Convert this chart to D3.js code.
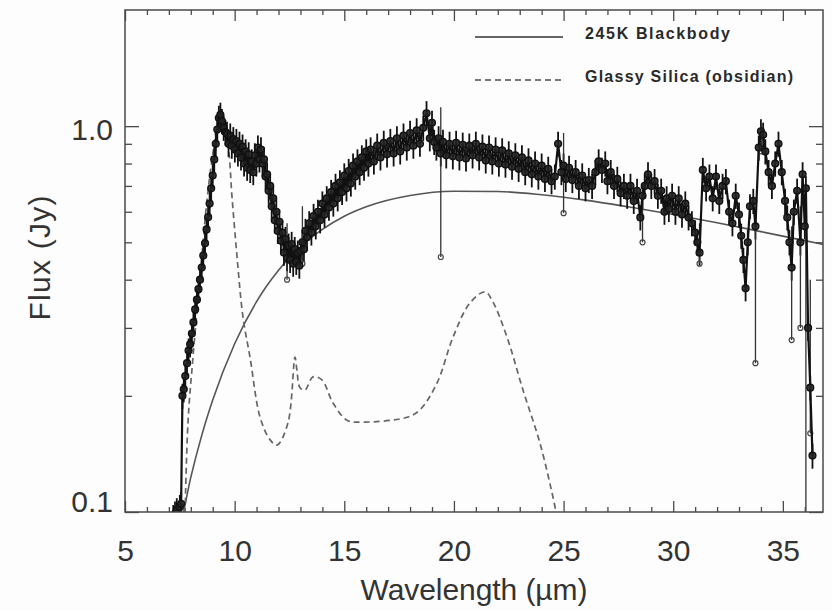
<!DOCTYPE html>
<html><head><meta charset="utf-8">
<script src="https://cdn.jsdelivr.net/npm/d3@7"></script>
<style>body{margin:0;background:#fdfdfd}svg{display:block}</style>
</head><body><svg id="c" width="832" height="611"></svg>
<script>
// ---- data ----
const wavelengths = [7.20,7.28,7.36,7.44,7.50,7.56,7.62,7.68,7.75,7.83,7.90,7.97,8.05,8.12,8.20,8.28,8.35,8.42,8.50,8.57,8.65,8.72,8.79,8.86,8.93,9.00,9.07,9.14,9.21,9.28,9.35,9.42,9.50,9.58,9.65,9.72,9.80,9.87,9.94,10.01,10.08,10.15,10.22,10.29,10.36,10.43,10.50,10.57,10.64,10.71,10.78,10.85,10.92,10.99,11.06,11.13,11.20,11.27,11.34,11.41,11.48,11.55,11.62,11.69,11.76,11.83,11.90,11.97,12.04,12.11,12.18,12.25,12.32,12.39,12.46,12.53,12.60,12.67,12.74,12.81,12.88,12.95,13.02,13.09,13.16,13.23,13.30,13.4,13.5,13.6,13.7,13.8,13.9,14.0,14.1,14.2,14.3,14.4,14.5,14.6,14.7,14.8,14.9,15.0,15.1,15.2,15.3,15.4,15.5,15.6,15.7,15.8,15.9,16.0,16.1,16.2,16.35,16.5,16.65,16.8,16.95,17.1,17.25,17.4,17.55,17.7,17.85,18.0,18.15,18.3,18.45,18.6,18.75,18.9,19.0,19.1,19.2,19.3,19.4,19.5,19.65,19.8,19.95,20.1,20.25,20.4,20.55,20.7,20.85,21.0,21.15,21.3,21.45,21.6,21.75,21.9,22.05,22.2,22.35,22.5,22.65,22.8,22.95,23.1,23.25,23.4,23.55,23.7,23.85,24.0,24.15,24.3,24.45,24.6,24.75,24.9,25.0,25.1,25.25,25.4,25.55,25.7,25.85,26.0,26.15,26.3,26.45,26.6,26.75,26.9,27.0,27.15,27.3,27.45,27.6,27.75,27.9,28.05,28.2,28.35,28.5,28.6,28.7,28.85,29.0,29.15,29.3,29.45,29.6,29.7,29.8,29.95,30.1,30.25,30.4,30.55,30.7,30.85,31.0,31.1,31.2,31.35,31.5,31.65,31.8,31.95,32.1,32.25,32.4,32.55,32.7,32.85,33.0,33.1,33.2,33.3,33.4,33.5,33.65,33.75,33.9,34.0,34.1,34.2,34.35,34.5,34.65,34.8,34.95,35.1,35.2,35.3,35.4,35.5,35.65,35.8,35.9,36.0,36.05,36.15,36.25,36.35];
const flux = [0.097,0.099,0.101,0.098,0.103,0.105,0.200,0.208,0.225,0.243,0.262,0.272,0.290,0.310,0.335,0.355,0.378,0.400,0.430,0.462,0.497,0.540,0.581,0.630,0.690,0.745,0.820,0.900,0.980,1.05,1.07,1.03,0.99,0.965,0.955,0.900,0.945,0.890,0.925,0.870,0.915,0.850,0.900,0.830,0.885,0.800,0.860,0.780,0.845,0.770,0.810,0.760,0.840,0.800,0.880,0.820,0.870,0.800,0.820,0.740,0.750,0.680,0.700,0.620,0.650,0.570,0.600,0.535,0.565,0.505,0.530,0.470,0.510,0.455,0.490,0.450,0.495,0.440,0.480,0.445,0.470,0.435,0.475,0.500,0.480,0.535,0.515,0.560,0.530,0.585,0.550,0.600,0.570,0.630,0.590,0.650,0.615,0.675,0.630,0.700,0.650,0.715,0.675,0.745,0.690,0.765,0.710,0.790,0.740,0.810,0.760,0.830,0.780,0.860,0.800,0.870,0.810,0.890,0.830,0.905,0.845,0.915,0.850,0.930,0.860,0.945,0.880,0.960,0.890,0.975,0.900,0.990,1.08,0.930,1.02,0.910,0.880,0.930,0.850,0.910,0.840,0.900,0.835,0.905,0.830,0.895,0.825,0.890,0.840,0.900,0.830,0.885,0.815,0.880,0.810,0.870,0.800,0.865,0.795,0.850,0.785,0.840,0.775,0.830,0.760,0.815,0.750,0.800,0.740,0.790,0.730,0.775,0.720,0.740,0.900,0.760,0.790,0.730,0.780,0.725,0.760,0.700,0.745,0.690,0.725,0.700,0.760,0.810,0.770,0.800,0.720,0.760,0.700,0.730,0.670,0.700,0.660,0.700,0.640,0.680,0.580,0.660,0.700,0.750,0.700,0.720,0.660,0.680,0.600,0.650,0.610,0.660,0.600,0.650,0.590,0.630,0.580,0.560,0.530,0.500,0.470,0.770,0.690,0.740,0.650,0.740,0.640,0.700,0.720,0.600,0.560,0.660,0.590,0.520,0.450,0.380,0.500,0.620,0.640,0.550,0.880,0.970,0.950,0.860,0.760,0.700,0.800,0.900,0.760,0.640,0.580,0.500,0.430,0.600,0.680,0.500,0.750,0.550,0.690,0.300,0.210,0.140];
const relError = 0.075;
// large error bars: [wavelength, low, high]
const bigErrors = [[12.39,0.40,0.56],[13.09,0.44,0.62],[19.4,0.458,1.12],[25.0,0.595,0.96],[28.6,0.50,0.66],[31.2,0.44,0.56],[33.75,0.243,0.60],[34.0,0.86,1.0],[35.4,0.279,0.55],[35.8,0.30,0.62],[36.05,0.085,0.70],[36.25,0.16,0.40]];

const bbWavelengths = [7.3,7.5,8,8.5,9,10,11,12,13,14,15,16,18,20,22,24,26,28,30,32,34,36,36.9];
const bbFlux = [0.085,0.091,0.123,0.158,0.195,0.273,0.351,0.423,0.487,0.540,0.584,0.618,0.661,0.678,0.677,0.664,0.643,0.617,0.590,0.562,0.533,0.505,0.493];

const silicaWavelengths = [7.74,7.87,8.10,8.42,8.74,9.01,9.33,9.70,9.88,10.11,10.38,10.70,11.16,11.61,11.93,12.43,12.75,12.84,12.98,13.21,13.57,13.98,14.48,15.12,15.85,17.86,18.45,19.23,19.96,20.73,21.42,21.78,22.42,23.15,23.92,24.52,24.70];
const silicaFlux = [0.099,0.170,0.252,0.406,0.643,0.851,1.07,0.882,0.655,0.458,0.320,0.252,0.176,0.154,0.149,0.170,0.252,0.233,0.210,0.207,0.224,0.220,0.192,0.173,0.171,0.176,0.184,0.216,0.284,0.348,0.372,0.350,0.284,0.207,0.151,0.109,0.097];

const xMajorTicks = [5,10,15,20,25,30,35];
const xMinorTicks = [6,7,8,9,11,12,13,14,16,17,18,19,21,22,23,24,26,27,28,29,31,32,33,34,36];
const yMajorTicks = [0.1,1.0];
const yMinorTicks = [0.2,0.3,0.4,0.5,0.6,0.7,0.8,0.9];
const legendLabels = ["245K Blackbody","Glassy Silica (obsidian)"];

// ---- layout ----
const L=125, R=823, T=10, B=512;
const svg = d3.select("#c");
svg.append("rect").attr("width",832).attr("height",611).attr("fill","#fdfdfd");
const x = d3.scaleLinear().domain([5,36.83]).range([L,R]);
const y = d3.scaleLog().domain([0.1,2.0]).range([B,T]);

svg.append("defs").append("clipPath").attr("id","clip")
  .append("rect").attr("x",L).attr("y",T).attr("width",R-L).attr("height",B-T);
const plot = svg.append("g").attr("clip-path","url(#clip)");

const axisColor="#4a4a4a";
const font="'Liberation Sans', Arial, sans-serif";
function styleAxis(g){
  g.select(".domain").remove();
  g.selectAll("line").attr("stroke",axisColor).attr("stroke-width",1.3);
  g.selectAll("text").attr("font-family",font).attr("font-size",30).attr("fill","#333");
}
svg.append("g").attr("transform",`translate(0,${B})`)
  .call(d3.axisBottom(x).tickValues(xMajorTicks).tickFormat(d3.format("d")).tickSize(-11).tickSizeOuter(0).tickPadding(28))
  .call(styleAxis);
svg.append("g").attr("transform",`translate(0,${B})`)
  .call(d3.axisBottom(x).tickValues(xMinorTicks).tickFormat("").tickSize(-5).tickSizeOuter(0)).call(styleAxis);
svg.append("g").attr("transform",`translate(0,${T})`)
  .call(d3.axisTop(x).tickValues(xMajorTicks).tickFormat("").tickSize(-11).tickSizeOuter(0)).call(styleAxis);
svg.append("g").attr("transform",`translate(0,${T})`)
  .call(d3.axisTop(x).tickValues(xMinorTicks).tickFormat("").tickSize(-5).tickSizeOuter(0)).call(styleAxis);

const yl = svg.append("g").attr("transform",`translate(${L},0)`)
  .call(d3.axisLeft(y).tickValues(yMajorTicks).tickFormat(d3.format(".1f")).tickSize(-14).tickSizeOuter(0).tickPadding(12))
  .call(styleAxis);
yl.selectAll("text").attr("dy",(d)=> d===0.1 ? "-0.02em" : "0.45em");
svg.append("g").attr("transform",`translate(${L},0)`)
  .call(d3.axisLeft(y).tickValues(yMinorTicks).tickFormat("").tickSize(-7).tickSizeOuter(0)).call(styleAxis);
svg.append("g").attr("transform",`translate(${R},0)`)
  .call(d3.axisRight(y).tickValues(yMajorTicks).tickFormat("").tickSize(-14).tickSizeOuter(0)).call(styleAxis);
svg.append("g").attr("transform",`translate(${R},0)`)
  .call(d3.axisRight(y).tickValues(yMinorTicks).tickFormat("").tickSize(-7).tickSizeOuter(0)).call(styleAxis);

svg.append("rect").attr("x",L).attr("y",T).attr("width",R-L).attr("height",B-T)
  .attr("fill","none").attr("stroke",axisColor).attr("stroke-width",1.5);

// axis titles
svg.append("text").attr("x",474).attr("y",600).attr("text-anchor","middle")
  .attr("font-family",font).attr("font-size",30).attr("fill","#333")
  .attr("textLength",227).text("Wavelength (µm)");
svg.append("text").attr("transform","translate(50,258) rotate(-90)").attr("text-anchor","middle")
  .attr("font-family",font).attr("font-size",30).attr("fill","#333")
  .attr("textLength",125).text("Flux (Jy)");

// curves
const bb = bbWavelengths.map((w,i)=>[w,bbFlux[i]]);
const si = silicaWavelengths.map((w,i)=>[w,silicaFlux[i]]);
const line = d3.line().x(d=>x(d[0])).y(d=>y(d[1])).curve(d3.curveMonotoneX);
plot.append("path").attr("d",line(bb)).attr("fill","none").attr("stroke","#555").attr("stroke-width",1.6);
const line2 = d3.line().x(d=>x(d[0])).y(d=>y(d[1])).curve(d3.curveCatmullRom);
plot.append("path").attr("d",line2(si)).attr("fill","none").attr("stroke","#666").attr("stroke-width",1.7).attr("stroke-dasharray","6,4");

// observed data
const obs = wavelengths.map((w,i)=>({w, f:flux[i]}));
const dark="#111";
plot.selectAll("line.err").data(obs).enter().append("line")
  .attr("x1",d=>x(d.w)).attr("x2",d=>x(d.w))
  .attr("y1",d=>y(d.f*(1-relError))).attr("y2",d=>y(d.f*(1+relError)))
  .attr("stroke",dark).attr("stroke-width",1.8);
plot.selectAll("line.big").data(bigErrors).enter().append("line")
  .attr("x1",d=>x(d[0])).attr("x2",d=>x(d[0]))
  .attr("y1",d=>y(d[1])).attr("y2",d=>y(d[2]))
  .attr("stroke","#333").attr("stroke-width",1.3);
plot.selectAll("circle.bend").data(bigErrors).enter().append("circle")
  .attr("cx",d=>x(d[0])).attr("cy",d=>y(d[1])).attr("r",2.5)
  .attr("fill","none").attr("stroke","#444").attr("stroke-width",1.2);
const dline = d3.line().x(d=>x(d.w)).y(d=>y(d.f));
plot.append("path").attr("d",dline(obs)).attr("fill","none").attr("stroke",dark).attr("stroke-width",2.2);
plot.selectAll("circle.pt").data(obs).enter().append("circle")
  .attr("cx",d=>x(d.w)).attr("cy",d=>y(d.f)).attr("r",3.4)
  .attr("fill","#222").attr("fill-opacity",0.9).attr("stroke",dark).attr("stroke-width",1.4);

// legend
const lg = svg.append("g");
lg.append("line").attr("x1",475).attr("x2",563).attr("y1",37).attr("y2",37).attr("stroke","#666").attr("stroke-width",2);
lg.append("line").attr("x1",475).attr("x2",563).attr("y1",80).attr("y2",80).attr("stroke","#777").attr("stroke-width",1.8).attr("stroke-dasharray","6,4");
lg.append("text").attr("x",585).attr("y",39).attr("font-family",font).attr("font-size",16).attr("font-weight","bold").attr("fill","#2a2a2a").attr("textLength",145).text(legendLabels[0]);
lg.append("text").attr("x",585).attr("y",82).attr("font-family",font).attr("font-size",16).attr("font-weight","bold").attr("fill","#2a2a2a").attr("textLength",208).text(legendLabels[1]);
</script></body></html>
